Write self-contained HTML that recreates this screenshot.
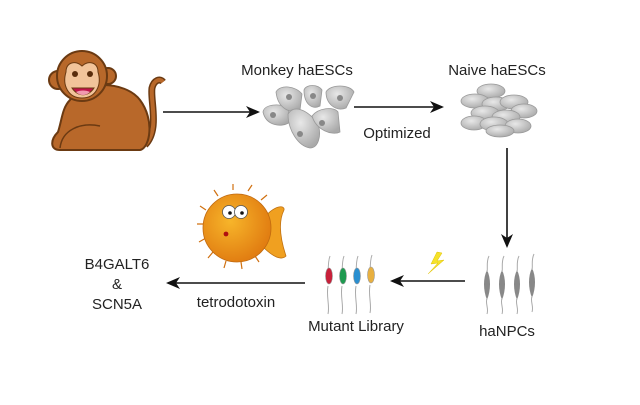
<!DOCTYPE html>
<html><head><style>
html,body{margin:0;padding:0;background:#fff;}
svg{display:block}
text{font-family:"Liberation Sans",Arial,sans-serif;fill:#222}
</style></head><body>
<svg width="640" height="405" viewBox="0 0 640 405" xmlns="http://www.w3.org/2000/svg">
<defs>
<radialGradient id="cg" cx="40%" cy="35%" r="70%"><stop offset="0" stop-color="#e8e8e8"/><stop offset="1" stop-color="#a9a9a9"/></radialGradient>
<radialGradient id="fg" cx="40%" cy="40%" r="65%"><stop offset="0" stop-color="#f7b52a"/><stop offset="1" stop-color="#e07a10"/></radialGradient>
<marker id="ah" markerWidth="14" markerHeight="12" refX="12" refY="6" orient="auto" markerUnits="userSpaceOnUse"><path d="M0,0 L14,6 L0,12 L4,6 Z" fill="#111"/></marker>
</defs>

<!-- monkey -->
<g stroke="#6b3a12" stroke-width="2">
<path d="M145,145 C160,130 150,100 152,88 C154,80 160,78 163,82" fill="none" stroke="#6b3a12" stroke-width="7"/>
<path d="M145,145 C160,130 150,100 152,88 C154,80 160,78 163,82" fill="none" stroke="#b8682a" stroke-width="4"/>
<path d="M70,100 C80,80 125,80 140,100 C155,120 150,148 140,150 L60,150 C50,150 50,140 58,132 C62,120 62,108 70,100 Z" fill="#b8682a"/>
<path d="M60,148 C62,130 80,122 100,126" fill="none" stroke-width="1.5"/>
<circle cx="58" cy="80" r="9" fill="#b8682a"/>
<circle cx="108" cy="76" r="8" fill="#b8682a"/>
<circle cx="82" cy="76" r="25" fill="#b8682a"/>
<path d="M66,72 C66,62 76,60 82,66 C88,60 98,62 98,72 C102,85 96,98 82,98 C68,98 62,85 66,72 Z" fill="#f2c49a" stroke-width="1"/>
<path d="M72,88 C78,97 88,97 94,88 Z" fill="#c0134b" stroke-width="1"/>
<path d="M76,92 C80,96 86,96 90,92 C86,90 80,90 76,92Z" fill="#f29ab0" stroke="none"/>
</g>
<circle cx="75" cy="74" r="3" fill="#5a2d0c"/><circle cx="90" cy="74" r="3" fill="#5a2d0c"/>

<!-- arrows -->
<line x1="163" y1="112" x2="258" y2="112" stroke="#111" stroke-width="1.6" marker-end="url(#ah)"/>
<line x1="354" y1="107" x2="442" y2="107" stroke="#111" stroke-width="1.6" marker-end="url(#ah)"/>
<line x1="507" y1="148" x2="507" y2="246" stroke="#111" stroke-width="1.6" marker-end="url(#ah)"/>
<line x1="465" y1="281" x2="392" y2="281" stroke="#111" stroke-width="1.6" marker-end="url(#ah)"/>
<line x1="305" y1="283" x2="168" y2="283" stroke="#111" stroke-width="1.6" marker-end="url(#ah)"/>

<!-- labels -->
<text x="297" y="75" font-size="15" text-anchor="middle">Monkey haESCs</text>
<text x="497" y="75" font-size="15" text-anchor="middle">Naive haESCs</text>
<text x="397" y="138" font-size="15" text-anchor="middle">Optimized</text>
<text x="507" y="336" font-size="15" text-anchor="middle">haNPCs</text>
<text x="356" y="331" font-size="15" text-anchor="middle">Mutant Library</text>
<text x="236" y="307" font-size="15" text-anchor="middle">tetrodotoxin</text>
<text x="117" y="269" font-size="15" text-anchor="middle">B4GALT6</text>
<text x="117" y="289" font-size="15" text-anchor="middle">&amp;</text>
<text x="117" y="309" font-size="15" text-anchor="middle">SCN5A</text>

<!-- monkey haESCs -->
<g fill="url(#cg)" stroke="#999" stroke-width="0.8">
<path d="M263,112 C264,104 280,103 288,108 L290,122 C282,128 266,126 263,112Z"/>
<path d="M276,92 C280,84 296,86 302,94 L300,110 C292,114 278,110 276,92Z"/>
<path d="M304,90 C306,84 318,84 322,90 L320,106 C312,110 304,104 304,90Z"/>
<path d="M326,92 C330,84 350,84 354,92 L346,108 C336,112 326,104 326,92Z"/>
<path d="M288,114 C294,104 308,110 318,124 C322,136 318,148 310,148 C298,146 288,130 288,114Z"/>
<path d="M312,116 C318,108 334,106 338,112 L340,132 C332,136 316,130 312,116Z"/>
</g>
<g fill="#888"><circle cx="273" cy="115" r="3"/><circle cx="289" cy="97" r="3"/><circle cx="313" cy="96" r="3"/><circle cx="340" cy="98" r="3"/><circle cx="300" cy="134" r="3"/><circle cx="322" cy="123" r="3"/></g>

<!-- naive haESCs -->
<g fill="url(#cg)" stroke="#999" stroke-width="0.8">
<ellipse cx="491" cy="91" rx="14" ry="7"/>
<ellipse cx="475" cy="101" rx="14" ry="7"/>
<ellipse cx="496" cy="104" rx="14" ry="7"/>
<ellipse cx="514" cy="102" rx="14" ry="7"/>
<ellipse cx="524" cy="111" rx="13" ry="7"/>
<ellipse cx="485" cy="113" rx="14" ry="7"/>
<ellipse cx="506" cy="117" rx="14" ry="7"/>
<ellipse cx="474" cy="123" rx="13" ry="7"/>
<ellipse cx="494" cy="124" rx="14" ry="7"/>
<ellipse cx="518" cy="126" rx="13" ry="7"/>
<ellipse cx="500" cy="131" rx="14" ry="6"/>
</g>

<!-- haNPCs -->
<g fill="#888">
<path d="M487,270 C491,278 491,290 487,300 C483,290 483,278 487,270Z"/>
<path d="M502,270 C506,278 506,290 502,300 C498,290 498,278 502,270Z"/>
<path d="M517,270 C521,278 521,290 517,300 C513,290 513,278 517,270Z"/>
<path d="M532,268 C536,276 536,288 532,298 C528,288 528,276 532,268Z"/>
</g>
<g stroke="#aaa" stroke-width="1" fill="none">
<path d="M489,256 C486,262 488,268 487,272 M487,298 C485,304 489,308 487,314"/>
<path d="M504,256 C501,262 503,268 502,272 M502,298 C500,304 504,308 502,314"/>
<path d="M519,256 C516,262 518,268 517,272 M517,298 C515,304 519,308 517,314"/>
<path d="M534,254 C531,260 533,266 532,270 M532,296 C530,302 534,306 532,312"/>
</g>

<!-- lightning -->
<path d="M437,252 L431,264 L438,263 L428,274 L444,260 L437,261 L442,253 Z" fill="#f5e22a" stroke="#e0c000" stroke-width="0.5"/>

<!-- mutant library -->
<g stroke="#aaa" stroke-width="1" fill="none">
<path d="M330,256 C327,264 329,272 328,280 M328,286 C326,296 330,306 328,314"/>
<path d="M344,256 C341,264 343,272 342,280 M342,286 C340,296 344,306 342,314"/>
<path d="M358,256 C355,264 357,272 356,280 M356,286 C354,296 358,306 356,314"/>
<path d="M372,255 C369,263 371,271 370,279 M370,285 C368,295 372,305 370,313"/>
</g>
<g stroke="#999" stroke-width="0.6">
<ellipse cx="329" cy="276" rx="3.5" ry="8" fill="#c8203a"/>
<ellipse cx="343" cy="276" rx="3.5" ry="8" fill="#1e9a50"/>
<ellipse cx="357" cy="276" rx="3.5" ry="8" fill="#2a8fd0"/>
<ellipse cx="371" cy="275" rx="3.5" ry="8" fill="#e8b040"/>
</g>

<!-- fish -->
<path d="M262,220 C275,204 285,205 284,210 C278,222 280,238 286,256 C280,262 270,254 262,246 Z" fill="#f0a020" stroke="#c07010" stroke-width="0.8"/>
<g stroke="#d07010" stroke-width="1.2">
<path d="M206,210 L200,206 M204,224 L197,224 M206,238 L199,242 M213,252 L208,258 M226,261 L224,268 M241,262 L242,269 M255,256 L259,262 M218,196 L214,190 M233,190 L233,184 M248,191 L252,185 M261,200 L267,195"/>
</g>
<circle cx="237" cy="228" r="34" fill="url(#fg)" stroke="#c06a10" stroke-width="0.8"/>
<ellipse cx="229" cy="212" rx="6.5" ry="6.5" fill="#fff" stroke="#555" stroke-width="0.8"/>
<ellipse cx="241" cy="212" rx="6.5" ry="6.5" fill="#fff" stroke="#555" stroke-width="0.8"/>
<circle cx="230" cy="213" r="1.8" fill="#111"/><circle cx="242" cy="213" r="1.8" fill="#111"/>
<circle cx="226" cy="234" r="2.4" fill="#b01010"/>
</svg>
</body></html>
